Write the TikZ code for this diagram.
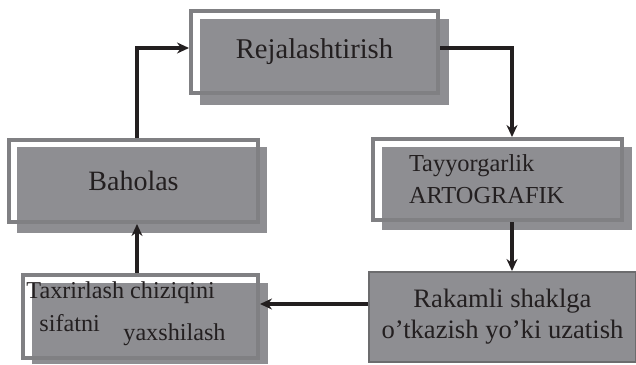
\documentclass[tikz,border=0pt]{standalone}
\usepackage{fontspec}
\setmainfont{Liberation Serif}
\usetikzlibrary{positioning,arrows.meta,calc}
\definecolor{plategray}{RGB}{142,142,146}
\definecolor{framegray}{RGB}{128,128,131}
\definecolor{edgegray}{RGB}{108,108,110}
\definecolor{inkgray}{RGB}{35,31,32}

\tikzset{
  plate/.style={fill=plategray, inner sep=0pt},
  frame/.style={draw=framegray, line width=2pt, inner sep=0pt, text=inkgray},
  flow/.style={-{Stealth[length=6pt,width=5.5pt]}, line width=1.8pt, draw=inkgray},
  txt/.style={text=inkgray, inner sep=0pt, anchor=west, font=\fontsize{12.1}{14}\selectfont},
}

\begin{document}
\begin{tikzpicture}[x=0.5pt,y=-0.5pt]
    \useasboundingbox (0,0) rectangle (636,364);

    % Plates behind the frames
    \node[plate, minimum width=124.5pt, minimum height=43pt] (rejplate) at (324.5,62) {};
    \node[plate, minimum width=125pt, minimum height=43pt] (bahplate) at (142,190) {};
    \node[plate, minimum width=125pt, minimum height=41.5pt] (tayplate) at (507,188.5) {};
    \node[plate, minimum width=118pt, minimum height=40.5pt] (taxplate) at (150,323.5) {};

    % Frames
    \node[frame, minimum width=123.5pt, minimum height=41pt,
          font=\fontsize{14.3}{17}\selectfont] (rej) at (314.5,52) {Rejalashtirish};
    \node[frame, minimum width=124.5pt, minimum height=41pt,
          font=\fontsize{14}{17}\selectfont] (bah) at (133.5,181) {Baholas};
    \node[frame, minimum width=124.5pt, minimum height=40.5pt, inner xsep=18pt,
          text width=88.5pt, align=left,
          font=\fontsize{12.2}{16}\selectfont] (tay) at (497.5,179.5) {Tayyorgarlik\\ARTOGRAFIK};
    \node[frame, minimum width=117.5pt, minimum height=41.5pt] (tax) at (140.5,316.5) {};
    \node[fill=plategray, draw=edgegray, line width=1pt, inner sep=0pt, text=inkgray,
          minimum width=133.5pt, minimum height=45pt, align=center,
          font=\fontsize{13.3}{15.5}\selectfont] (rak) at (502.5,317)
          {Rakamli shaklga\\o’tkazish yo’ki uzatish};

    % Text of the lower left frame
    \node[txt] (taxline) at (26,293) {Taxrirlash chiziqini};
    \node[txt] (taxsif) at (39,323) {sifatni};
    \node[txt] (taxyax) at (123,335) {yaxshilash};

    % Flow
    \draw[flow] ([xshift=1.75pt]bah.north) |- ([yshift=2pt]rej.west);
    \draw[flow] ([yshift=2pt]rej.east) -| ([xshift=7.25pt]tay.north);
    \draw[flow] ([xshift=7.25pt]tay.south) -- ([xshift=7.25pt]tay.south |- rak.north);
    \draw[flow] ([yshift=6.5pt]rak.west) -- ([yshift=6.5pt]rak.west -| tax.east);
    \draw[flow] ([xshift=-1.75pt]tax.north) -- ([xshift=-1.75pt]tax.north |- bah.south);
\end{tikzpicture}
\end{document}
